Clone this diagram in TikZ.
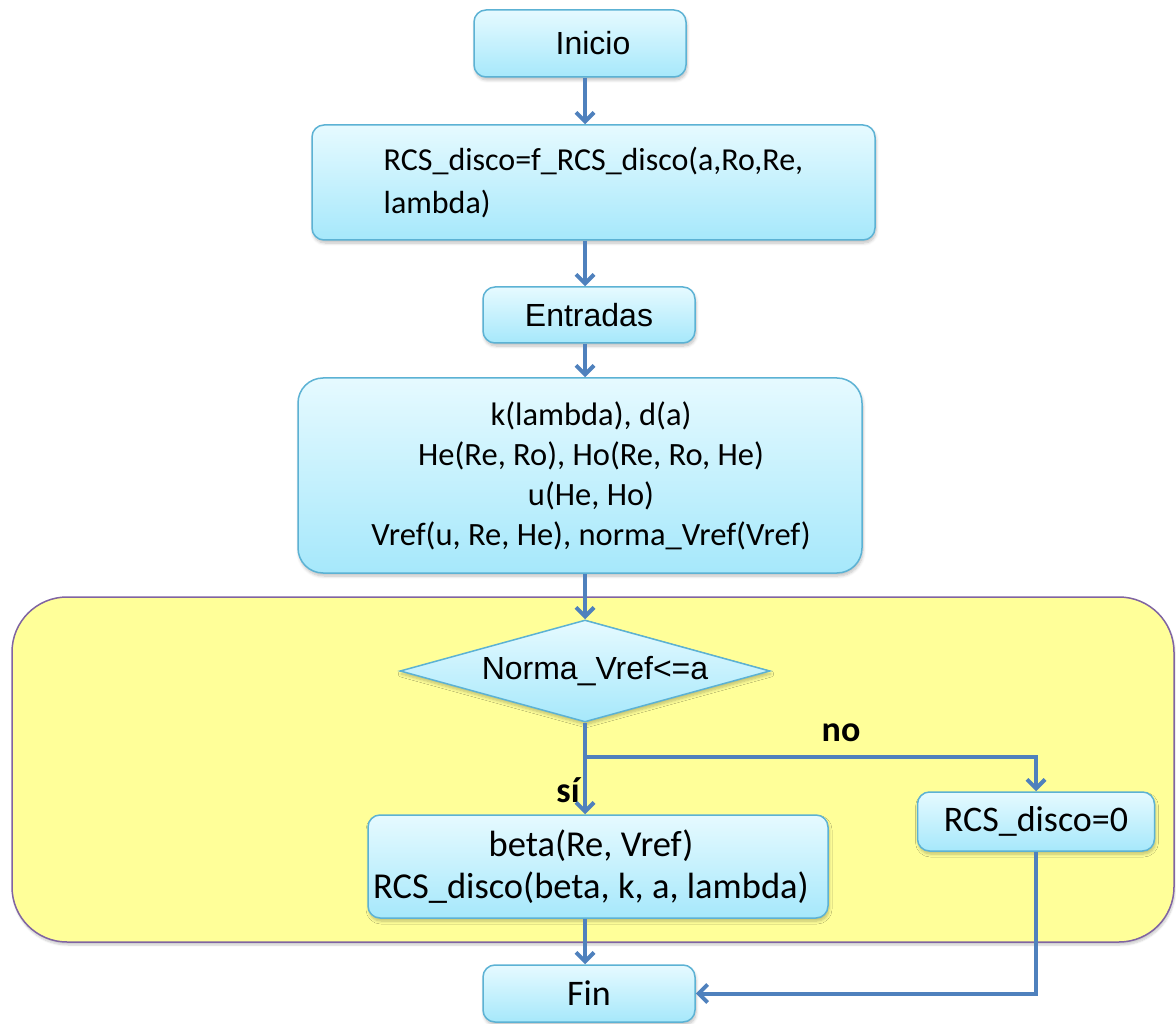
\documentclass[tikz,border=0pt]{standalone}
\usepackage{fontspec}
\setmainfont{Carlito}
\newfontfamily\arialfont{Liberation Sans}
\usetikzlibrary{shapes.geometric,arrows.meta,shadows.blur}

\definecolor{flowline}{RGB}{79,129,189}
\definecolor{boxedge}{RGB}{92,178,212}
\definecolor{boxtop}{RGB}{230,250,255}
\definecolor{boxbot}{RGB}{166,232,251}
\definecolor{zonefill}{RGB}{255,255,153}
\definecolor{zoneedge}{RGB}{128,100,162}

\newcommand\bodytxt{\fontsize{36}{40}\selectfont}
\newcommand\headtxt{\arialfont\fontsize{32}{38}\selectfont}

\begin{document}
\begin{tikzpicture}[x=1pt,y=-1pt,
  softshadow/.style={blur shadow={shadow xshift=1pt, shadow yshift=-3pt,
      shadow opacity=25, shadow blur steps=6, shadow blur radius=3pt}},
  procbox/.style={draw=boxedge, line width=1.5pt, rounded corners=12pt,
      top color=boxtop, bottom color=boxbot, inner sep=0pt,
      softshadow, align=center, font=\bodytxt},
  headbox/.style={procbox, font=\headtxt},
  decision/.style={diamond, aspect=3.6, draw=boxedge, line width=1.5pt,
      top color=boxtop, bottom color=boxbot, inner sep=0pt,
      softshadow, font=\headtxt},
  zone/.style={draw=zoneedge, line width=1.5pt, fill=zonefill,
      rounded corners=55pt, inner sep=0pt,
      blur shadow={shadow xshift=1pt, shadow yshift=-3pt,
      shadow opacity=20, shadow blur steps=6}},
  flowpath/.style={draw=flowline, line width=4pt},
  flow/.style={flowpath, -{Straight Barb[length=9pt, width=18pt]}},
  branchlbl/.style={font=\bodytxt\bfseries, inner sep=0pt}
]
\useasboundingbox (0,0) rectangle (1176,1024);

% shaded region around the decision
\node[zone, minimum width=1162, minimum height=345] (loopzone) at (593,769.5) {};

% process steps
\node[headbox, minimum width=212, minimum height=67] (inicio) at (580,43.5)
  {\hspace*{26pt}Inicio};
\node[procbox, align=left, minimum width=563, minimum height=115,
      font=\fontsize{32}{43}\selectfont] (rcs) at (593.5,182.5)
  {RCS\_disco=f\_RCS\_disco(a,Ro,Re,\\lambda)};
\node[headbox, minimum width=212, minimum height=56] (entr) at (589,315) {Entradas};
\node[procbox, rounded corners=25pt, minimum width=564, minimum height=195,
      font=\fontsize{32.5}{40}\selectfont] (calc) at (580,475.5)
  {\hspace*{22pt}k(lambda), d(a)\\\hspace*{22pt}He(Re, Ro), Ho(Re, Ro, He)\\
   \hspace*{22pt}u(He, Ho)\\\hspace*{22pt}Vref(u, Re, He), norma\_Vref(Vref)};
\node[decision, minimum width=370, minimum height=102] (cond) at (585,671)
  {\hspace*{20pt}Norma\_Vref<=a};
\node[procbox, minimum width=460, minimum height=103,
      font=\fontsize{36.5}{42}\selectfont] (beta) at (598,866.5)
  {\hspace*{-14pt}beta(Re, Vref)\\\hspace*{-14pt}RCS\_disco(beta, k, a, lambda)};
\node[procbox, minimum width=237, minimum height=59] (zero) at (1036,821.5) {RCS\_disco=0};
\node[procbox, minimum width=212, minimum height=57] (fin) at (589,993.5) {Fin};

% branch labels
\node[branchlbl] (nolbl) at (841,733) {no};
\node[branchlbl] (silbl) at (568,790) {sí};

% connectors
\coordinate (split) at (585,757);
\draw[flow] (inicio.south -| cond) -- (rcs.north -| cond);
\draw[flow] (rcs.south -| cond) -- (entr.north -| cond);
\draw[flow] (entr.south -| cond) -- (calc.north -| cond);
\draw[flow] (calc.south -| cond) -- (cond.north);
\draw[flowpath] (cond.south) -- (split);
\draw[flow] (split) -- (beta.north -| cond);
\draw[flow] (split) -| (zero.north);
\draw[flow] (beta.south -| cond) -- (fin.north -| cond);
\draw[flow] (zero.south) |- (fin.east);
\end{tikzpicture}
\end{document}
